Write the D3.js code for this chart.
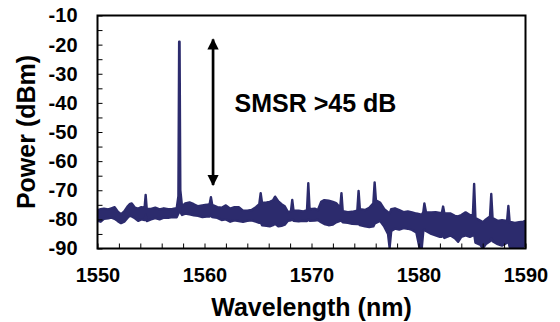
<!DOCTYPE html>
<html>
<head>
<meta charset="utf-8">
<script src="https://cdn.jsdelivr.net/npm/d3@7"></script>
<style>
  html, body { margin: 0; padding: 0; background: #fff; }
  svg text { font-family: "Liberation Sans", Arial, sans-serif; font-weight: bold; fill: #000; }
</style>
</head>
<body>
<svg id="chart" width="560" height="322"></svg>
<script>
// spectrum: wavelength (nm) with upper / lower edge of the trace (dBm)
const wavelength = [
  1550.0, 1550.3, 1550.6, 1551.0, 1551.3, 1551.6, 1551.9, 1552.2, 1552.5, 1552.8,
  1553.0, 1553.2, 1553.5, 1553.8, 1554.1, 1554.4, 1554.5, 1554.6, 1555.0, 1555.4,
  1555.8, 1556.2, 1556.6, 1557.0, 1557.4, 1557.56, 1557.63, 1557.67, 1557.74, 1557.9,
  1558.2, 1558.6, 1559.0, 1559.4, 1559.8, 1560.2, 1560.48, 1560.6, 1560.72, 1561.2,
  1561.6, 1562.0, 1562.4, 1562.8, 1563.2, 1563.6, 1564.0, 1564.4, 1564.8, 1565.12,
  1565.25, 1565.38, 1565.8, 1566.1, 1566.4, 1566.6, 1566.9, 1567.2, 1567.5, 1567.8,
  1568.08, 1568.2, 1568.32, 1568.8, 1569.2, 1569.58, 1569.7, 1569.82, 1570.3, 1570.6,
  1570.9, 1571.2, 1571.6, 1572.0, 1572.3, 1572.68, 1572.8, 1572.92, 1573.4, 1573.8,
  1574.28, 1574.4, 1574.52, 1575.0, 1575.4, 1575.78, 1575.9, 1576.02, 1576.4, 1576.8,
  1577.15, 1577.3, 1577.45, 1577.8, 1578.2, 1578.6, 1579.0, 1579.4, 1579.8, 1580.1,
  1580.3, 1580.45, 1580.55, 1580.7, 1581.2, 1581.6, 1582.0, 1582.18, 1582.3, 1582.42,
  1583.0, 1583.4, 1583.7, 1584.0, 1584.4, 1584.8, 1585.08, 1585.2, 1585.32, 1585.8,
  1586.0, 1586.3, 1586.68, 1586.8, 1586.92, 1587.4, 1587.8, 1588.28, 1588.4, 1588.52,
  1588.7, 1589.0, 1589.4, 1589.8, 1590.0
];
const upper = [
  -76.8, -76.5, -76.3, -76.6, -76.2, -75.8, -77.4, -78.2, -77.3, -75.6,
  -74.8, -74.5, -76.0, -76.3, -75.8, -76.0, -71.6, -76.3, -76.4, -76.0,
  -76.6, -76.2, -76.5, -76.4, -76.2, -72.0, -19.0, -19.0, -70.0, -75.5,
  -74.5, -74.2, -74.8, -75.5, -75.2, -75.0, -74.8, -72.4, -75.0, -75.8,
  -76.0, -75.2, -76.3, -75.8, -75.8, -77.0, -77.0, -76.8, -75.8, -74.8,
  -71.0, -74.4, -74.2, -74.0, -73.5, -72.2, -73.8, -74.8, -75.5, -77.5,
  -77.2, -73.3, -77.0, -77.0, -77.3, -76.8, -67.6, -76.5, -76.3, -76.8,
  -74.0, -73.4, -73.6, -74.0, -74.4, -76.0, -71.0, -77.2, -77.5, -77.4,
  -77.0, -70.2, -76.5, -76.8, -76.0, -74.5, -67.3, -73.5, -74.2, -76.5,
  -77.5, -78.0, -76.5, -76.2, -76.8, -77.5, -77.3, -77.6, -78.0, -78.2,
  -78.5, -77.5, -74.5, -77.5, -77.6, -77.5, -77.8, -77.8, -75.6, -78.0,
  -78.0, -78.8, -79.0, -78.5, -77.6, -78.5, -78.6, -67.8, -79.5, -80.5,
  -81.0, -80.0, -79.0, -71.3, -79.5, -80.5, -80.3, -80.5, -75.4, -81.0,
  -81.0, -81.2, -81.0, -80.8, -80.5
];
const lower = [
  -80.5, -80.8, -79.8, -79.6, -79.4, -79.8, -80.6, -81.3, -80.8, -79.5,
  -78.8, -79.0, -79.6, -80.5, -80.0, -80.2, -78.5, -80.6, -80.0, -79.6,
  -80.0, -79.4, -79.5, -79.2, -79.3, -78.0, -72.0, -72.0, -77.5, -78.5,
  -78.0, -78.3, -78.6, -78.8, -79.2, -79.0, -79.0, -78.5, -79.2, -79.5,
  -80.2, -80.0, -80.8, -80.3, -80.6, -80.8, -80.5, -80.3, -80.8, -81.2,
  -81.0, -82.0, -82.2, -82.4, -82.0, -81.5, -82.4, -82.2, -81.8, -80.5,
  -80.3, -80.0, -80.5, -80.7, -80.5, -80.6, -80.0, -80.5, -80.4, -80.2,
  -81.0, -81.6, -82.0, -81.8, -81.0, -80.5, -80.5, -81.0, -81.2, -81.5,
  -81.6, -81.5, -82.0, -82.4, -82.6, -82.4, -81.5, -81.2, -80.5, -82.5,
  -85.0, -89.8, -84.0, -83.2, -83.5, -83.0, -83.2, -83.6, -84.5, -89.8,
  -90.0, -84.0, -83.5, -84.0, -85.0, -85.5, -86.0, -86.0, -85.0, -86.4,
  -85.5, -86.5, -87.7, -86.0, -85.5, -86.0, -85.5, -85.0, -88.0, -88.8,
  -90.0, -88.5, -87.5, -86.5, -87.5, -88.5, -89.0, -88.0, -87.5, -89.5,
  -89.5, -90.0, -90.0, -89.5, -88.5
];
const xTicks = [1550, 1552, 1554, 1556, 1558, 1560, 1562, 1564, 1566, 1568, 1570,
  1572, 1574, 1576, 1578, 1580, 1582, 1584, 1586, 1588, 1590];
const yTicks = [-90, -85, -80, -75, -70, -65, -60, -55, -50, -45, -40, -35, -30, -25, -20, -15, -10];
const smsrArrow = [-18.2, -68.2];   // dBm, drawn at 1560.8 nm
const note = "SMSR >45 dB";

const margin = { top: 15.5, right: 34.5, bottom: 73.5, left: 97.5 };
const width = 560 - margin.left - margin.right;
const height = 322 - margin.top - margin.bottom;
const lineColor = "#2c2b6d";

const svg = d3.select("#chart");
const g = svg.append("g").attr("transform", `translate(${margin.left},${margin.top})`);

const x = d3.scaleLinear().domain([1550, 1590]).range([0, width]);
const y = d3.scaleLinear().domain([-90, -10]).range([height, 0]);

// clip
const defs = svg.append("defs");
defs.append("clipPath").attr("id", "plotclip")
  .append("rect").attr("width", width).attr("height", height);

const spectrum = wavelength.map((w, i) => ({ w: w, hi: upper[i], lo: lower[i] }));

const band = d3.area()
  .x(d => x(d.w))
  .y0(d => y(d.lo))
  .y1(d => y(d.hi));

g.append("path")
  .datum(spectrum)
  .attr("clip-path", "url(#plotclip)")
  .attr("d", band)
  .attr("fill", lineColor)
  .attr("stroke", lineColor)
  .attr("stroke-width", 2.4)
  .attr("stroke-linejoin", "round");

// axes
const xAxis = g.append("g")
  .attr("transform", `translate(0,${height})`)
  .call(d3.axisBottom(x).tickValues(xTicks).tickSizeInner(-5).tickSizeOuter(0).tickPadding(19)
    .tickFormat(d => d % 10 === 0 ? String(d) : ""));
xAxis.select(".domain").remove();
xAxis.selectAll("line").attr("stroke", "#000").attr("stroke-width", 1);
xAxis.selectAll("text").style("font-size", "20px");

const yAxis = g.append("g")
  .call(d3.axisLeft(y).tickValues(yTicks).tickSizeInner(-5).tickSizeOuter(0).tickPadding(20)
    .tickFormat(d => d % 10 === 0 ? String(d) : ""));
yAxis.select(".domain").remove();
yAxis.selectAll("line").attr("stroke", "#000").attr("stroke-width", 1);
yAxis.selectAll("text").style("font-size", "20px");

// frame
g.append("rect")
  .attr("width", width).attr("height", height)
  .attr("fill", "none").attr("stroke", "#000").attr("stroke-width", 2);

// axis titles
svg.append("text")
  .attr("x", margin.left + width / 2).attr("y", 316)
  .attr("text-anchor", "middle")
  .style("font-size", "25px")
  .text("Wavelength (nm)");

svg.append("text")
  .attr("transform", `translate(35,${margin.top + height / 2}) rotate(-90)`)
  .attr("text-anchor", "middle")
  .style("font-size", "25px")
  .text("Power (dBm)");

// double arrow
const marker = defs.append("marker")
  .attr("id", "head").attr("viewBox", "0 0 10 10")
  .attr("refX", 9).attr("refY", 5)
  .attr("markerWidth", 4.2).attr("markerHeight", 4.2)
  .attr("markerUnits", "strokeWidth")
  .attr("orient", "auto-start-reverse");
marker.append("path").attr("d", "M0,0 L10,5 L0,10 Z").attr("fill", "#000");

g.append("line")
  .attr("x1", x(1560.8)).attr("x2", x(1560.8))
  .attr("y1", y(smsrArrow[0])).attr("y2", y(smsrArrow[1]))
  .attr("stroke", "#000").attr("stroke-width", 2.7)
  .attr("marker-start", "url(#head)")
  .attr("marker-end", "url(#head)");

g.append("text")
  .attr("x", x(1562.8)).attr("y", y(-43))
  .style("font-size", "25px")
  .text(note);
</script>
</body>
</html>
